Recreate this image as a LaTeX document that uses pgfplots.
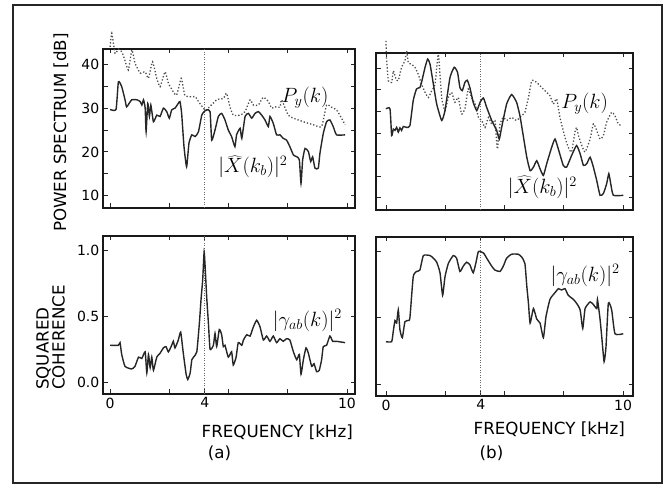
\documentclass[border=0pt]{standalone}
\usepackage{pgfplots}
\pgfplotsset{compat=1.18}
\usepackage{fontspec}
\newfontfamily\dejavu{DejaVu Sans}
\newcommand\tickfont{\dejavu\fontsize{14bp}{16bp}\selectfont}
\newcommand\labfont{\dejavu\fontsize{16.7bp}{16bp}\selectfont}
\newcommand\annfont{\fontsize{19bp}{22bp}\selectfont}
\pgfplotsset{
 panel/.style={scale only axis, clip=false,
   axis line style={line width=1.4bp, black!90},
   tick style={line width=0.9bp, black!85},
   major tick length=4.5bp, minor tick length=4.5bp,
   tick label style={font=\tickfont, inner sep=3.5bp},
   xtick={0,2.5,5,7.5,10}, xticklabels={}},
 spec/.style={solid, line width=1.4bp, black!85, smooth, tension=0.3},
 pyst/.style={line width=1.3bp, black!70, dash pattern=on 1.3bp off 2bp, smooth, tension=0.3},
 vline/.style={line width=0.8bp, black!60, dash pattern=on 1bp off 1.5bp},
}
\begin{document}
\begin{tikzpicture}
\path (0bp,0bp) rectangle (666bp,486bp);
\draw[line width=1.5bp, black!85] (13bp,3bp) rectangle (662bp,481bp);
% ---------------- (a) top
\begin{axis}[panel, at={(103bp,278bp)}, anchor=south west, width=252bp, height=159bp,
  xmin=-0.3, xmax=10.34, ymin=7.2, ymax=43.5,
  ytick={10,20,30,40}, yticklabels={10,20,30,40}, minor ytick={15,25,35}]
\addplot[vline] coordinates {(4,7.2) (4,43.5)};
\addplot[pyst] coordinates {
(0.00,44.0) (0.07,47.1) (0.21,42.5) (0.35,43.5) (0.50,42.8) (0.62,41.0) (0.77,38.7)
(0.92,43.3) (1.05,40.3) (1.27,38.0) (1.48,38.3) (1.62,36.8) (1.79,40.6) (1.97,36.8)
(2.11,34.9) (2.32,38.3) (2.46,35.7) (2.67,33.7) (2.81,33.0) (3.00,36.8) (3.08,35.0)
(3.15,33.0) (3.30,32.6) (3.60,32.6) (3.73,31.5) (3.94,30.0) (4.05,29.5) (4.50,31.9)
(4.78,32.2) (4.92,33.4) (5.06,30.3) (5.20,28.4) (5.49,28.4) (5.70,29.2) (5.91,31.9)
(6.05,30.7) (6.26,30.7) (6.47,32.5) (6.68,31.5) (6.82,30.0) (6.96,30.3) (7.17,30.2)
(7.24,31.9) (7.52,28.4) (7.74,27.7) (8.16,26.9) (8.58,26.2) (8.93,25.8) (9.14,30.7)
(9.35,30.2) (9.56,29.6) (9.77,27.7) (9.92,26.2)};
\addplot[spec] coordinates {
(0.00,29.7) (0.25,29.7) (0.35,36.0) (0.49,34.9) (0.63,31.9) (0.70,30.3) (0.91,31.9)
(1.13,31.9) (1.27,31.5) (1.34,30.7) (1.41,31.9) (1.48,30.0) (1.52,24.6) (1.59,31.1)
(1.66,28.1) (1.72,30.7) (1.83,26.9) (1.97,28.4) (2.11,28.1) (2.25,30.0) (2.39,29.2)
(2.50,27.7) (2.60,29.6) (2.74,30.0) (2.88,31.1) (2.95,31.5) (3.02,28.8) (3.12,21.2)
(3.23,16.6) (3.33,22.0) (3.45,23.9) (3.59,23.5) (3.73,24.6) (3.87,28.4) (3.97,29.2)
(4.08,29.6) (4.22,29.2) (4.29,22.7) (4.43,25.0) (4.57,28.1) (4.71,28.8) (4.85,27.3)
(4.99,25.0) (5.13,23.5) (5.27,21.2) (5.34,23.9) (5.49,25.4) (5.56,23.1) (5.70,28.1)
(5.84,28.8) (5.98,27.7) (6.12,28.8) (6.26,29.2) (6.40,28.4) (6.54,27.3) (6.68,25.8)
(6.75,28.1) (6.89,26.5) (7.03,23.9) (7.17,23.9) (7.31,23.1) (7.45,22.7) (7.59,21.2)
(7.74,19.3) (7.88,18.9) (7.99,18.2) (8.06,12.8) (8.13,18.2) (8.23,20.8) (8.37,20.1)
(8.47,17.8) (8.55,18.9) (8.65,16.3) (8.79,16.3) (8.86,19.7) (9.00,24.2) (9.14,26.9)
(9.28,27.3) (9.42,25.8) (9.56,23.9) (9.92,23.9)};
\node[font=\annfont] at (axis cs:8.23,32.3) {$P_y(k)$};
\node[font=\annfont] at (axis cs:6.03,16.6) {$|\widehat{X}(k_b)|^2$};
\end{axis}
% ---------------- (a) bottom
\begin{axis}[panel, at={(103bp,92bp)}, anchor=south west, width=252bp, height=158bp,
  xmin=-0.3, xmax=10.34, ymin=-0.09, ymax=1.11,
  xtick={0,2.5,4,5,7.5,10}, xticklabels={0,,4,,,10},
  ytick={0,0.5,1}, yticklabels={0.0,0.5,1.0}]
\addplot[vline] coordinates {(4,-0.09) (4,1.11)};
\addplot[spec] coordinates {
(0.00,0.28) (0.35,0.28) (0.42,0.30) (0.49,0.21) (0.63,0.12) (0.91,0.10) (1.05,0.12)
(1.20,0.19) (1.34,0.18) (1.48,0.23) (1.55,0.07) (1.62,0.21) (1.69,0.11) (1.76,0.19)
(1.83,0.09) (1.97,0.19) (2.11,0.22) (2.25,0.26) (2.36,0.27) (2.46,0.23) (2.60,0.28)
(2.67,0.31) (2.74,0.26) (2.88,0.32) (2.98,0.38) (3.09,0.22) (3.21,0.06) (3.28,0.02)
(3.38,0.07) (3.45,0.17) (3.52,0.19) (3.66,0.23) (3.77,0.45) (3.84,0.63) (3.91,0.78)
(3.97,0.99) (4.02,0.85) (4.08,0.64) (4.15,0.45) (4.22,0.25) (4.36,0.28) (4.43,0.37)
(4.50,0.27) (4.61,0.40) (4.71,0.36) (4.78,0.27) (4.85,0.28) (4.99,0.19) (5.13,0.23)
(5.20,0.13) (5.32,0.19) (5.41,0.30) (5.56,0.28) (5.63,0.32) (5.77,0.36) (5.91,0.35)
(6.05,0.42) (6.19,0.47) (6.33,0.42) (6.47,0.32) (6.61,0.35) (6.75,0.31) (6.89,0.35)
(7.03,0.30) (7.17,0.33) (7.31,0.31) (7.45,0.33) (7.59,0.32) (7.74,0.23) (7.88,0.17)
(7.99,0.21) (8.06,0.06) (8.16,0.17) (8.27,0.26) (8.37,0.22) (8.51,0.12) (8.61,0.14)
(8.72,0.08) (8.83,0.09) (8.93,0.17) (9.00,0.27) (9.14,0.28) (9.28,0.35) (9.40,0.31)
(9.56,0.31) (9.92,0.30)};
\node[font=\annfont] at (axis cs:8.33,0.47) {$|\gamma_{ab}(k)|^2$};
\end{axis}
% ---------------- (b) top
\begin{axis}[panel, at={(376bp,276bp)}, anchor=south west, width=257bp, height=157bp,
  xmin=-0.42, xmax=10.42, ymin=7.2, ymax=43.5,
  ytick={10,15,20,25,30,35,40}, yticklabels={}]
\addplot[vline] coordinates {(4,7.2) (4,43.5)};
\addplot[pyst] coordinates {
(0.00,46.3) (0.03,41.7) (0.10,37.1) (0.24,36.7) (0.31,39.4) (0.42,37.5) (0.52,37.1)
(0.66,40.2) (0.80,41.7) (0.87,44.0) (0.94,41.3) (1.08,40.9) (1.22,40.2) (1.36,38.6)
(1.50,36.3) (1.65,34.4) (1.79,33.2) (1.93,34.8) (2.07,36.3) (2.21,43.2) (2.35,33.2)
(2.49,30.2) (2.63,33.2) (2.77,34.4) (2.91,32.1) (3.05,33.2) (3.19,29.4) (3.33,30.6)
(3.47,35.2) (3.61,33.2) (3.76,31.7) (3.90,28.6) (4.04,27.9) (4.18,26.3) (4.32,28.6)
(4.46,27.1) (4.60,27.9) (4.70,21.3) (4.81,27.1) (4.95,28.6) (5.09,27.9) (5.30,28.6)
(5.51,27.9) (5.72,29.0) (5.86,29.8) (6.01,33.2) (6.15,37.1) (6.36,36.7) (6.57,35.5)
(6.78,34.4) (6.92,33.6) (7.06,31.7) (7.20,32.9) (7.34,28.6) (7.55,24.0) (7.69,21.7)
(7.83,20.6) (7.97,25.2) (8.04,26.3) (8.12,24.4) (8.26,22.1) (8.40,20.6) (8.61,23.6)
(8.75,27.1) (8.89,25.6) (9.03,23.6) (9.17,24.4) (9.31,27.5) (9.52,29.8) (9.66,29.0)
(9.80,27.1) (9.94,26.7)};
\addplot[spec] coordinates {
(0.00,30.6) (0.17,30.6) (0.24,24.4) (0.31,25.9) (0.38,25.6) (0.45,26.3) (0.52,25.2)
(0.59,26.2) (0.66,25.6) (0.73,26.5) (0.87,26.3) (1.01,26.7) (1.15,32.5) (1.29,35.2)
(1.43,35.5) (1.50,36.7) (1.65,40.2) (1.76,42.1) (1.86,40.9) (2.00,36.3) (2.14,31.7)
(2.35,27.9) (2.49,30.2) (2.70,37.8) (2.88,40.2) (3.02,39.0) (3.12,35.5) (3.22,34.8)
(3.33,36.7) (3.43,37.2) (3.54,35.5) (3.68,32.1) (3.83,30.2) (3.97,32.1) (4.11,33.1)
(4.25,30.9) (4.46,27.9) (4.67,25.6) (4.78,23.6) (4.88,26.3) (5.09,31.7) (5.30,33.9)
(5.51,32.1) (5.65,29.0) (5.79,24.4) (5.94,19.4) (6.08,16.3) (6.22,17.1) (6.36,18.6)
(6.50,16.7) (6.64,15.2) (6.78,17.9) (6.99,21.7) (7.13,23.6) (7.27,21.3) (7.48,17.5)
(7.62,17.1) (7.83,19.8) (8.04,22.1) (8.19,20.2) (8.33,17.5) (8.47,17.9) (8.61,19.4)
(8.75,17.1) (8.89,14.0) (9.03,10.6) (9.17,11.0) (9.31,13.3) (9.40,15.6) (9.48,13.3)
(9.59,10.6) (10.01,10.6)};
\node[font=\annfont] at (axis cs:8.38,31.8) {$P_y(k)$};
\node[font=\annfont] at (axis cs:6.6,12.4) {$|\widehat{X}(k_b)|^2$};
\end{axis}
% ---------------- (b) bottom
\begin{axis}[panel, at={(376bp,90bp)}, anchor=south west, width=257bp, height=159bp,
  xmin=-0.42, xmax=10.42, ymin=-0.09, ymax=1.11,
  xtick={0,2.5,4,5,7.5,10}, xticklabels={0,,4,,,10},
  ytick={0,0.5,1}, yticklabels={}]
\addplot[vline] coordinates {(4,-0.09) (4,1.11)};
\addplot[spec] coordinates {
(0.00,0.32) (0.24,0.32) (0.31,0.40) (0.38,0.48) (0.45,0.46) (0.52,0.56) (0.59,0.41)
(0.69,0.35) (0.80,0.47) (0.94,0.48) (1.01,0.50) (1.15,0.81) (1.29,0.85) (1.43,0.86)
(1.58,0.97) (1.86,0.97) (2.00,0.95) (2.14,0.92) (2.28,0.84) (2.39,0.67) (2.49,0.81)
(2.63,0.91) (2.84,0.97) (2.98,0.95) (3.12,0.85) (3.26,0.89) (3.40,0.92) (3.54,0.90)
(3.68,0.84) (3.80,0.92) (3.90,1.00) (4.11,0.99) (4.25,0.95) (4.46,0.89) (4.60,0.86)
(4.81,0.85) (4.95,0.89) (5.09,0.95) (5.30,0.98) (5.58,0.98) (5.72,0.96) (5.86,0.91)
(5.94,0.74) (6.01,0.61) (6.08,0.46) (6.22,0.57) (6.36,0.49) (6.50,0.46) (6.64,0.35)
(6.75,0.51) (6.92,0.64) (7.13,0.69) (7.27,0.72) (7.41,0.71) (7.55,0.72) (7.69,0.67)
(7.90,0.64) (8.04,0.61) (8.19,0.56) (8.30,0.42) (8.40,0.57) (8.61,0.62) (8.75,0.60)
(8.89,0.57) (8.92,0.64) (9.03,0.49) (9.10,0.36) (9.20,0.17) (9.28,0.28) (9.38,0.61)
(9.52,0.56) (9.66,0.38) (10.01,0.38)};
\node[font=\annfont] at (axis cs:8.4,0.82) {$|\gamma_{ab}(k)|^2$};
\end{axis}
% ---------------- labels
\node[rotate=90, font=\labfont, inner sep=0pt] at (61bp,353.5bp) {POWER SPECTRUM [dB]};
\node[rotate=90, font=\labfont, align=left, inner sep=0pt, anchor=north west] at (36bp,96bp) {SQUARED\\COHERENCE};
\node[font=\labfont, anchor=east, inner sep=0pt] at (353bp,54bp) {FREQUENCY [kHz]};
\node[font=\labfont, anchor=east, inner sep=0pt] at (625bp,56.5bp) {FREQUENCY [kHz]};
\node[font=\labfont] at (219.5bp,33bp) {(a)};
\node[font=\labfont] at (491.5bp,33bp) {(b)};
\end{tikzpicture}
\end{document}
